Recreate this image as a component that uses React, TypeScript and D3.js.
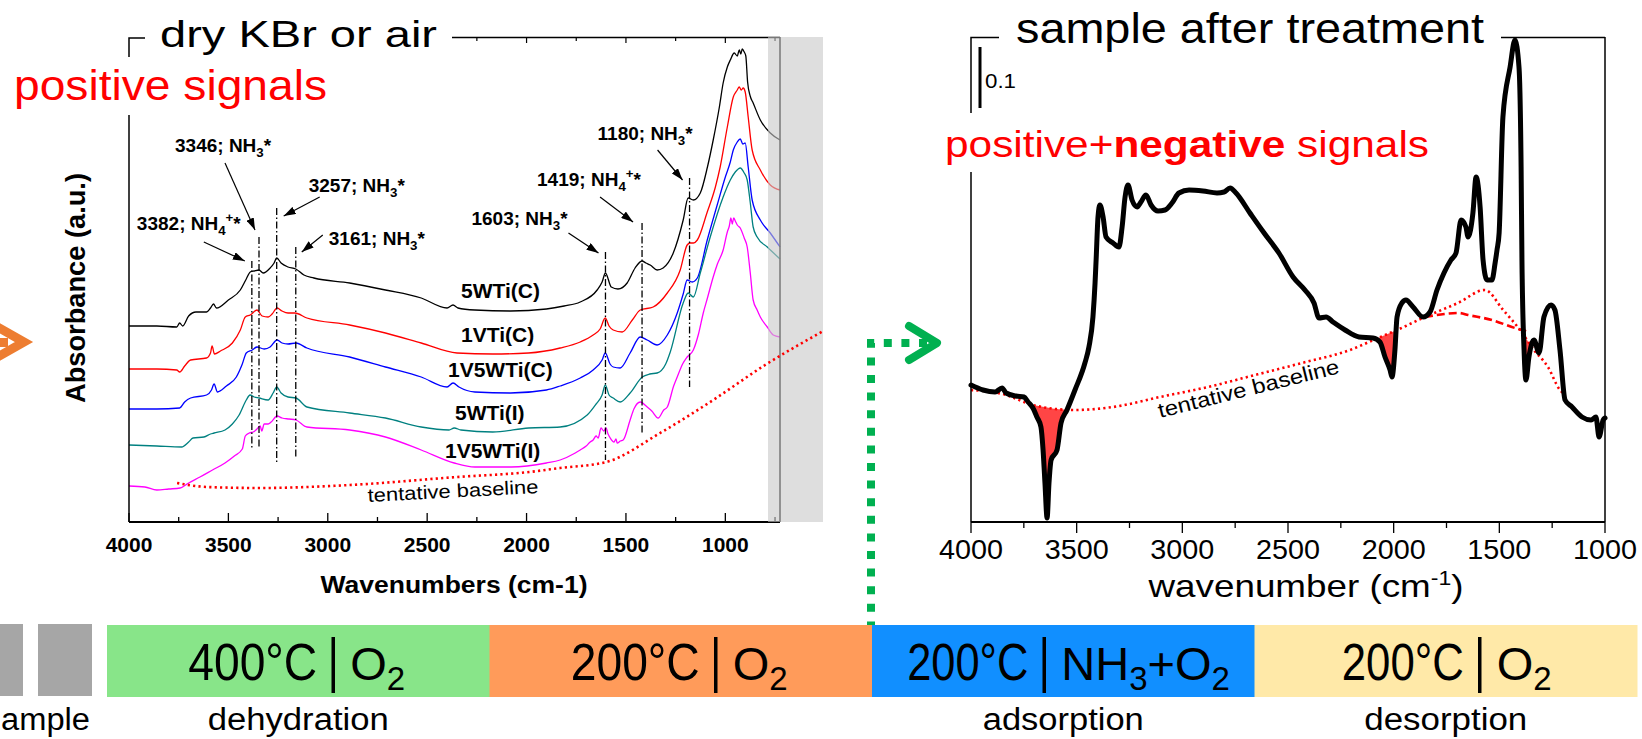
import React from "react";
import * as d3 from "d3";

type P = [number, number];
const FONT = "'Liberation Sans', Arial, Helvetica, sans-serif";

// ---------------- left panel: wavenumber (cm-1) vs absorbance (a.u., offset) ----------------
const leftMajorTicks = [4000, 3500, 3000, 2500, 2000, 1500, 1000];
const leftAllTicks = [4000, 3750, 3500, 3250, 3000, 2750, 2500, 2250, 2000, 1750, 1500, 1250, 1000, 750];

const spec5WTiC: P[] = [
  [4000, 19.6], [3860, 19.6], [3760, 19.5], [3745, 19.9], [3730, 19.6], [3700, 20.6], [3663, 21.0], [3610, 21.0],
  [3590, 21.4], [3575, 21.8], [3560, 21.4], [3500, 22.2], [3440, 23.2], [3410, 24.3], [3390, 25.0], [3370, 25.1],
  [3346, 25.2], [3325, 24.9], [3290, 25.4], [3270, 25.9], [3257, 26.4], [3235, 25.9], [3200, 25.5], [3161, 25.3],
  [3120, 24.7], [3070, 24.4], [2890, 23.9], [2710, 23.2], [2530, 22.4], [2400, 21.4], [2370, 21.7], [2345, 21.4],
  [2260, 21.2], [2080, 21.1], [1900, 21.3], [1811, 21.6], [1730, 22.0], [1645, 23.2], [1620, 24.0], [1603, 24.9],
  [1574, 23.5], [1540, 23.3], [1494, 23.9], [1454, 25.4], [1419, 26.1], [1400, 25.9], [1378, 25.7], [1343, 25.2],
  [1313, 25.4], [1262, 26.9], [1212, 30.2], [1187, 32.4], [1161, 32.2], [1126, 32.9], [1090, 35.5], [1061, 38.2],
  [1030, 41.5], [1011, 43.9], [990, 45.5], [975, 46.2], [955, 46.9], [940, 46.6], [930, 47.2], [922, 46.8],
  [915, 47.3], [905, 47.0], [897, 46.6], [888, 44.0], [875, 42.6], [860, 41.9], [824, 40.2], [774, 38.9], [725, 38.2],
];
const spec1VTiC: P[] = [
  [4000, 15.3], [3860, 15.3], [3760, 15.2], [3745, 15.0], [3720, 15.6], [3690, 16.2], [3610, 16.4], [3590, 16.9],
  [3582, 17.6], [3570, 16.8], [3540, 17.1], [3480, 17.9], [3440, 19.2], [3415, 20.5], [3390, 20.7], [3356, 21.2],
  [3330, 20.6], [3300, 20.5], [3280, 20.8], [3255, 21.4], [3230, 21.1], [3200, 20.9], [3165, 20.9], [3105, 20.4],
  [2890, 19.7], [2710, 18.9], [2530, 17.9], [2350, 16.9], [2170, 16.8], [1990, 16.9], [1831, 17.4], [1730, 18.0],
  [1665, 18.7], [1630, 19.3], [1604, 20.4], [1585, 19.6], [1564, 19.2], [1519, 19.0], [1468, 20.2], [1428, 21.2],
  [1363, 21.5], [1292, 22.9], [1227, 25.2], [1192, 27.7], [1177, 27.9], [1160, 27.9], [1141, 28.2], [1091, 31.0],
  [1050, 33.5], [1026, 35.5], [990, 39.5], [960, 42.5], [940, 43.2], [930, 43.5], [920, 43.2], [910, 43.4],
  [900, 43.0], [885, 40.5], [865, 37.2], [824, 35.2], [774, 33.7], [725, 33.2],
];
const spec1V5WTiC: P[] = [
  [4000, 11.3], [3860, 11.3], [3745, 11.4], [3720, 12.0], [3690, 12.4], [3610, 12.7], [3585, 13.2], [3572, 13.8],
  [3555, 13.0], [3510, 13.6], [3460, 14.5], [3430, 15.8], [3410, 16.9], [3380, 17.2], [3356, 17.5], [3320, 17.3],
  [3290, 17.5], [3255, 18.2], [3230, 17.9], [3200, 17.8], [3160, 17.9], [3105, 17.4], [2890, 16.5], [2710, 15.5],
  [2530, 14.5], [2400, 13.5], [2370, 13.9], [2340, 13.5], [2260, 13.0], [2080, 12.9], [1900, 13.2], [1831, 13.6],
  [1730, 14.4], [1665, 15.2], [1620, 16.2], [1604, 16.9], [1580, 15.8], [1564, 15.5], [1529, 15.4], [1479, 16.9],
  [1428, 18.5], [1393, 18.2], [1343, 17.7], [1292, 18.7], [1242, 20.9], [1212, 22.8], [1192, 24.2], [1167, 24.0],
  [1141, 24.4], [1091, 28.2], [1041, 31.7], [1000, 34.5], [975, 36.0], [960, 37.2], [940, 38.0], [925, 38.3],
  [912, 37.8], [900, 37.9], [885, 35.5], [865, 32.2], [824, 30.2], [774, 28.9], [725, 27.5],
];
const spec5WTiI: P[] = [
  [4000, 7.7], [3860, 7.6], [3735, 7.5], [3700, 8.0], [3678, 8.4], [3623, 8.5], [3590, 8.8], [3572, 8.9],
  [3517, 9.2], [3480, 9.8], [3446, 10.7], [3410, 12.2], [3391, 12.7], [3370, 12.5], [3346, 12.4], [3300, 12.2],
  [3275, 12.9], [3257, 13.5], [3235, 12.9], [3200, 12.5], [3160, 12.4], [3105, 11.5], [2890, 10.9], [2710, 10.4],
  [2530, 9.5], [2390, 9.2], [2364, 9.4], [2330, 9.2], [2170, 9.0], [1990, 9.4], [1831, 9.5], [1695, 10.7],
  [1650, 11.8], [1620, 12.7], [1604, 13.7], [1585, 12.7], [1564, 12.4], [1529, 12.0], [1479, 12.9], [1418, 14.5],
  [1380, 14.8], [1343, 14.9], [1300, 15.8], [1277, 17.0], [1212, 21.9], [1187, 22.9], [1161, 22.5], [1126, 24.9],
  [1076, 28.5], [1011, 32.5], [975, 34.2], [950, 35.0], [935, 35.3], [925, 35.4], [905, 34.9], [890, 34.2],
  [875, 32.0], [860, 29.5], [840, 28.5], [789, 27.5], [725, 26.3],
];
const spec1V5WTiI: P[] = [
  [4000, 3.6], [3920, 3.5], [3860, 3.2], [3800, 3.3], [3743, 3.4], [3700, 3.9], [3643, 4.5], [3580, 5.2],
  [3517, 5.9], [3470, 6.6], [3430, 7.3], [3415, 8.6], [3395, 8.9], [3375, 9.0], [3356, 9.3], [3340, 9.6],
  [3332, 9.1], [3320, 9.8], [3300, 9.8], [3285, 10.0], [3255, 10.6], [3230, 10.4], [3195, 10.3], [3160, 10.2],
  [3105, 9.5], [2890, 9.2], [2710, 8.5], [2530, 7.2], [2364, 5.9], [2260, 5.5], [2077, 5.5], [1900, 5.9],
  [1831, 6.2], [1755, 6.9], [1730, 7.2], [1700, 7.6], [1680, 8.0], [1665, 8.2], [1650, 8.6], [1640, 8.4],
  [1625, 9.4], [1612, 9.1], [1600, 9.4], [1590, 8.8], [1579, 8.4], [1560, 8.0], [1550, 8.3], [1544, 7.9],
  [1528, 8.1], [1514, 8.2], [1479, 10.2], [1460, 11.3], [1428, 12.0], [1393, 11.5], [1370, 11.1], [1338, 10.4],
  [1310, 11.2], [1292, 11.5], [1260, 13.6], [1242, 14.5], [1215, 15.8], [1192, 16.5], [1161, 17.2], [1135, 18.8],
  [1111, 20.9], [1090, 22.4], [1061, 24.5], [1040, 25.8], [1011, 27.2], [990, 29.0], [980, 29.6], [972, 30.4],
  [965, 29.8], [958, 30.4], [950, 30.1], [940, 29.7], [925, 29.4], [905, 28.4], [890, 27.5], [875, 25.0],
  [860, 22.2], [840, 21.2], [824, 20.5], [789, 19.5], [759, 18.7], [725, 18.5],
];
const leftNames = ["5WTi(C)", "1VTi(C)", "1V5WTi(C)", "5WTi(I)", "1V5WTi(I)"];
const leftColors = ["#000000", "#ff0000", "#0000ff", "#008080", "#ff00ff"];
const leftData = [spec5WTiC, spec1VTiC, spec1V5WTiC, spec5WTiI, spec1V5WTiI];
const leftNamePos: P[] = [[461, 298], [461, 342], [448, 377], [455, 420], [445, 458]];

const leftBaseline: P[] = [
  [3758, 3.9], [3607, 3.5], [3341, 3.4], [2888, 3.7], [2349, 4.5], [1987, 5.0], [1831, 5.4],
  [1599, 6.0], [1328, 8.9], [1061, 12.2], [800, 15.7], [507, 19.1],
];

// peak assignments
const peakWn = [3382, 3346, 3257, 3161, 1603, 1419, 1180];
const peakSpecies = ["NH4+", "NH3", "NH3", "NH3", "NH3", "NH4+", "NH3"];
const peakTop = [26.1, 28.5, 31.4, 27.5, 27.0, 29.9, 34.4];
const peakBottom = [7.4, 7.5, 5.9, 6.5, 6.2, 8.9, 13.5];
// annotation layout offsets relative to line top: [arrowStart dx,dy, arrowEnd dx,dy, text dx,dy]
const peakLayout = [
  [-48, -19, -7, 0, -115, -31],
  [-34, -74, -4, -7, -84, -85],
  [43, -11, 7, 8, 32, -16],
  [27, -12, 6, 5, 33, -2],
  [-37, -19, -7, 1, -134, -27],
  [-42, -26, -9, -1, -105, -37],
  [-32, -28, -7, 2, -92, -38],
];

// ---------------- right panel ----------------
const rightMajorTicks = [4000, 3500, 3000, 2500, 2000, 1500, 1000];
const rightMinorTicks = [3750, 3250, 2750, 2250, 1750, 1250];

const sampleAfter: P[] = [
  [4000, 13.7], [3943, 13.2], [3886, 13.0], [3853, 13.4], [3834, 12.9], [3787, 12.6], [3749, 12.5], [3730, 12.0],
  [3707, 11.4], [3688, 10.5], [3669, 9.5], [3659, 7.2], [3650, 3.9], [3640, 0.4], [3631, 3.9], [3621, 6.2],
  [3593, 7.2], [3574, 9.9], [3546, 11.2], [3508, 13.2], [3461, 15.9], [3442, 17.5], [3423, 20.5], [3413, 23.9],
  [3408, 26.2], [3399, 30.5], [3390, 31.7], [3375, 30.5], [3361, 28.5], [3328, 27.9], [3300, 27.5], [3285, 29.5],
  [3271, 32.5], [3257, 33.7], [3238, 32.2], [3214, 31.5], [3196, 32.0], [3172, 32.7], [3148, 31.7], [3115, 31.1],
  [3082, 31.2], [3049, 31.9], [3016, 32.9], [2968, 33.2], [2902, 33.1], [2836, 32.9], [2803, 33.0], [2774, 33.4],
  [2746, 32.9], [2680, 30.9], [2613, 28.9], [2543, 26.9], [2476, 24.5], [2420, 23.2], [2377, 21.9], [2353, 20.4],
  [2320, 20.5], [2287, 20.0], [2230, 19.2], [2164, 18.5], [2098, 18.4], [2065, 18.0], [2041, 16.5], [2017, 15.2],
  [2008, 14.5], [1994, 17.2], [1984, 20.5], [1961, 21.9], [1942, 22.2], [1908, 21.5], [1861, 20.5], [1828, 21.0],
  [1795, 23.2], [1762, 24.9], [1729, 26.2], [1705, 26.9], [1681, 30.2], [1658, 29.5], [1648, 28.5], [1625, 30.9],
  [1610, 34.5], [1591, 31.5], [1577, 26.2], [1558, 24.2], [1535, 24.2], [1520, 25.9], [1511, 27.2], [1501, 28.9],
  [1483, 40.5], [1449, 45.5], [1426, 48.2], [1407, 45.5], [1397, 35.5], [1393, 26.2], [1383, 17.2], [1374, 14.2],
  [1360, 16.5], [1336, 18.2], [1312, 16.9], [1289, 20.5], [1255, 21.7], [1237, 21.2], [1213, 17.2], [1189, 12.2],
  [1156, 11.5], [1109, 10.5], [1066, 10.2], [1043, 10.5], [1028, 8.5], [1009, 10.2], [1000, 10.4],
];
const baselineDotted: P[] = [
  [4000, 13.2], [3850, 12.8], [3707, 11.7], [3600, 11.3], [3508, 11.2], [3328, 11.5], [3106, 12.5], [2879, 13.5],
  [2656, 14.7], [2434, 15.9], [2207, 17.2], [2074, 18.4], [1984, 19.2], [1852, 20.5], [1696, 21.9], [1568, 23.2],
  [1482, 21.2], [1402, 19.2], [1336, 17.2], [1270, 15.5], [1213, 13.2], [1199, 12.9],
];
const baselineDashed: P[] = [
  [1852, 20.5], [1760, 20.8], [1690, 20.9], [1648, 20.7], [1535, 20.2], [1426, 19.4], [1360, 19.0],
];
const scaleBarUnits = [41.4, 47.5]; // = 0.1 absorbance
const scaleBarLabel = "0.1";

// ---------------- protocol steps ----------------
const stepTemps = ["400°C", "200°C", "200°C", "200°C"];
const stepGases = ["O2", "O2", "NH3+O2", "O2"];
const stepLabels = ["dehydration", "", "adsorption", "desorption"];
const stepLabelWidths = [181, 0, 161, 163];
const stepColors = ["#88e589", "#ff9b5a", "#118fff", "#ffe9a8"];
const stepBarOffsets = [35, 35, -19, 34];
const stepTempWidths = [129, 129, 121, 122];

// ---------------- scales ----------------
const xL = d3.scaleLinear().domain([4000, 725]).range([129, 780]);
const yA = d3.scaleLinear().domain([0, 48.5]).range([522, 37]);
const xR = d3.scaleLinear().domain([4000, 1000]).range([971, 1605]);
const stepBand = d3.scaleBand<number>().domain([0, 1, 2, 3]).range([107, 1637]).padding(0);

const lineL = d3.line<P>().x((d) => xL(d[0])).y((d) => yA(d[1])).curve(d3.curveMonotoneX);
const lineR = d3.line<P>().x((d) => xR(d[0])).y((d) => yA(d[1])).curve(d3.curveMonotoneX);

const curR = d3.scaleLinear().domain(sampleAfter.map((d) => d[0])).range(sampleAfter.map((d) => d[1]));
const baseR = d3.scaleLinear().domain(baselineDotted.map((d) => d[0])).range(baselineDotted.map((d) => d[1])).clamp(true);
const fillGrid = d3.range(3790, 1300, -1);
const fillArea = d3
  .area<number>()
  .x((w) => xR(w))
  .y0((w) => yA(baseR(w)))
  .y1((w) => yA(Math.min(curR(w), baseR(w))));

function Species({ sp, size }: { sp: string; size: number }) {
  const plus = sp.endsWith("+");
  const sub = sp.replace("NH", "").replace("+", "");
  return (
    <>
      {"NH"}
      <tspan dy={5} fontSize={size * 0.7}>{sub}</tspan>
      {plus ? <tspan dy={-13} fontSize={size * 0.7}>+</tspan> : null}
      <tspan dy={plus ? 8 : -5} fontSize={size}>*</tspan>
    </>
  );
}

function GasText({ gas, x, y }: { gas: string; x: number; y: number }) {
  const parts = gas.split(/(\d)/).filter((p) => p.length > 0);
  let prevSub = false;
  return (
    <text x={x} y={y} fontSize={47}>
      {parts.map((p, i) => {
        const isSub = /^\d$/.test(p);
        const dy = isSub ? 10 : prevSub ? -10 : 0;
        prevSub = isSub;
        return (
          <tspan key={i} dy={dy} fontSize={isSub ? 33 : 47}>
            {p}
          </tspan>
        );
      })}
    </text>
  );
}

export default function App() {
  const majorTop = leftAllTicks.filter((t) => xL(t) > 456);
  return (
    <svg
      width={1642}
      height={739}
      viewBox="0 0 1642 739"
      style={{ position: "absolute", left: 0, top: 0, background: "#fff" }}
      fontFamily={FONT}
    >
      <defs>
        <marker id="ah" viewBox="0 0 12 8" refX="12" refY="4" markerWidth="12" markerHeight="8" markerUnits="userSpaceOnUse" orient="auto">
          <path d="M0,0 L12,4 L0,8 z" fill="#000" />
        </marker>
      </defs>
      <rect x={0} y={0} width={1642} height={739} fill="#fff" />

      {/* ================= LEFT PANEL ================= */}
      {leftData.map((d, i) => (
        <path key={i} d={lineL(d) || ""} fill="none" stroke={leftColors[i]} strokeWidth={1.3} strokeLinejoin="round" />
      ))}
      {/* frame */}
      <path d={`M129,57 V38 H145`} fill="none" stroke="#000" strokeWidth={1.5} />
      <line x1={129} x2={129} y1={115} y2={522} stroke="#000" strokeWidth={1.5} />
      <line x1={452} x2={780} y1={37.5} y2={37.5} stroke="#000" strokeWidth={1.5} />
      <line x1={780} x2={780} y1={37} y2={522} stroke="#000" strokeWidth={1.5} />
      <line x1={129} x2={780} y1={522} y2={522} stroke="#000" strokeWidth={1.8} />
      {leftAllTicks.map((t) => (
        <line key={t} x1={xL(t)} x2={xL(t)} y1={522} y2={522 - (t % 500 === 0 ? 9 : 5)} stroke="#000" strokeWidth={1.3} />
      ))}
      {majorTop.map((t) => (
        <line key={"t" + t} x1={xL(t)} x2={xL(t)} y1={37} y2={37 + (t % 500 === 0 ? 6 : 4)} stroke="#000" strokeWidth={1.2} />
      ))}
      {/* gray band over the far end */}
      <rect x={768} y={37} width={55} height={485} fill="#c8c8c8" opacity={0.6} />
      {/* tentative baseline */}
      <path d={lineL(leftBaseline) || ""} fill="none" stroke="#ff0000" strokeWidth={2.6} strokeDasharray="2.2 3.2" />
      <text x={368} y={502} fontSize={19} textLength={171} lengthAdjust="spacingAndGlyphs" transform="rotate(-3 368 502)">
        tentative baseline
      </text>
      {/* peak markers */}
      {peakWn.map((w, i) => {
        const x = xL(w);
        const yt = yA(peakTop[i]);
        const L = peakLayout[i];
        return (
          <g key={w}>
            <line x1={x} x2={x} y1={yt} y2={yA(peakBottom[i])} stroke="#000" strokeWidth={1.3} strokeDasharray="7 2.5 1.5 2.5" />
            <line x1={x + L[0]} y1={yt + L[1]} x2={x + L[2]} y2={yt + L[3]} stroke="#000" strokeWidth={1.2} markerEnd="url(#ah)" />
            <text x={x + L[4]} y={yt + L[5]} fontSize={19} fontWeight="bold">
              {w}; <Species sp={peakSpecies[i]} size={19} />
            </text>
          </g>
        );
      })}
      {leftNames.map((n, i) => (
        <text key={n} x={leftNamePos[i][0]} y={leftNamePos[i][1]} fontSize={21} fontWeight="bold">
          {n}
        </text>
      ))}
      {/* axes labels */}
      {leftMajorTicks.map((t) => (
        <text key={t} x={xL(t)} y={552} fontSize={21} fontWeight="bold" textAnchor="middle">
          {t}
        </text>
      ))}
      <text x={454} y={593} fontSize={23} fontWeight="bold" textAnchor="middle" textLength={267} lengthAdjust="spacingAndGlyphs">
        Wavenumbers (cm-1)
      </text>
      <text x={85} y={288} fontSize={27} fontWeight="bold" textAnchor="middle" transform="rotate(-90 85 288)" textLength={230} lengthAdjust="spacingAndGlyphs">
        Absorbance (a.u.)
      </text>
      <text x={160} y={47} fontSize={37} textLength={277} lengthAdjust="spacingAndGlyphs">
        dry KBr or air
      </text>
      <text x={14} y={100} fontSize={42} fill="#ff0000" textLength={313} lengthAdjust="spacingAndGlyphs">
        positive signals
      </text>

      {/* orange arrow at left edge */}
      <path d="M-6,325 L24,342 L-6,359" fill="none" stroke="#ed7d31" strokeWidth={9} />
      <rect x={0} y={338} width={8} height={9} fill="#ed7d31" />

      {/* ================= RIGHT PANEL ================= */}
      <path d={fillArea(fillGrid) || ""} fill="#ff4545" />
      <path d={lineR(baselineDotted) || ""} fill="none" stroke="#ff0000" strokeWidth={2.6} strokeDasharray="2.2 3.2" />
      <path d={lineR(baselineDashed) || ""} fill="none" stroke="#ff0000" strokeWidth={2.6} strokeDasharray="8 4" />
      <path d={lineR(sampleAfter) || ""} fill="none" stroke="#000" strokeWidth={5} strokeLinejoin="round" strokeLinecap="round" />
      <text x={1160} y={418} fontSize={21} textLength={186} lengthAdjust="spacingAndGlyphs" transform="rotate(-14 1160 418)">
        tentative baseline
      </text>
      {/* frame */}
      <path d="M971,113 V37.5 H999" fill="none" stroke="#000" strokeWidth={1.5} />
      <line x1={971} x2={971} y1={172} y2={522} stroke="#000" strokeWidth={1.5} />
      <line x1={1501} x2={1605} y1={37.5} y2={37.5} stroke="#000" strokeWidth={1.5} />
      <line x1={1605} x2={1605} y1={37} y2={522} stroke="#000" strokeWidth={1.5} />
      <line x1={971} x2={1605} y1={522} y2={522} stroke="#000" strokeWidth={1.8} />
      {rightMajorTicks.map((t) => (
        <line key={t} x1={xR(t)} x2={xR(t)} y1={522} y2={533} stroke="#000" strokeWidth={1.3} />
      ))}
      {rightMinorTicks.map((t) => (
        <line key={t} x1={xR(t)} x2={xR(t)} y1={522} y2={528} stroke="#000" strokeWidth={1.3} />
      ))}
      {rightMajorTicks.map((t) => (
        <text key={"l" + t} x={xR(t)} y={559} fontSize={28} textAnchor="middle" textLength={64} lengthAdjust="spacingAndGlyphs">
          {t}
        </text>
      ))}
      <text x={1306} y={597} fontSize={32} textAnchor="middle" textLength={315} lengthAdjust="spacingAndGlyphs">
        wavenumber (cm<tspan dy={-12} fontSize={20}>-1</tspan>
        <tspan dy={12}>)</tspan>
      </text>
      {/* scale bar */}
      <line x1={980} x2={980} y1={yA(scaleBarUnits[0])} y2={yA(scaleBarUnits[1])} stroke="#000" strokeWidth={3} />
      <text x={985} y={88} fontSize={20} textLength={31} lengthAdjust="spacingAndGlyphs">
        {scaleBarLabel}
      </text>
      <text x={1016} y={43} fontSize={42} textLength={468} lengthAdjust="spacingAndGlyphs">
        sample after treatment
      </text>
      <text x={945} y={157} fontSize={36} fill="#ff0000" textLength={484} lengthAdjust="spacingAndGlyphs">
        positive+<tspan fontWeight="bold">negative</tspan> signals
      </text>

      {/* green connector */}
      <path d="M927,343 H871 V626" fill="none" stroke="#00b050" strokeWidth={8} strokeDasharray="8 9.6" />
      <path d="M909,326 L937,343 L909,360" fill="none" stroke="#00b050" strokeWidth={8} strokeLinecap="round" strokeLinejoin="round" />

      {/* ================= PROTOCOL BAR ================= */}
      <rect x={0} y={624} width={23} height={72} fill="#a6a6a6" />
      <rect x={38} y={624} width={54} height={72} fill="#a6a6a6" />
      <text x={90} y={730} fontSize={31} textAnchor="end" textLength={89} lengthAdjust="spacingAndGlyphs">
        ample
      </text>
      {stepTemps.map((t, i) => {
        const x0 = stepBand(i) as number;
        const bw = stepBand.bandwidth();
        const cx = x0 + bw / 2;
        const bx = cx + stepBarOffsets[i];
        return (
          <g key={i}>
            <rect x={x0} y={625} width={bw + 0.5} height={72} fill={stepColors[i]} />
            <text x={bx - 16} y={680} fontSize={51} textAnchor="end" textLength={stepTempWidths[i]} lengthAdjust="spacingAndGlyphs">
              {t}
            </text>
            <line x1={bx} x2={bx} y1={637} y2={693} stroke="#000" strokeWidth={3.5} />
            <GasText gas={stepGases[i]} x={bx + 17} y={680} />
            {stepLabels[i] ? (
              <text x={cx} y={730} fontSize={31} textAnchor="middle" textLength={stepLabelWidths[i]} lengthAdjust="spacingAndGlyphs">
                {stepLabels[i]}
              </text>
            ) : null}
          </g>
        );
      })}
    </svg>
  );
}
